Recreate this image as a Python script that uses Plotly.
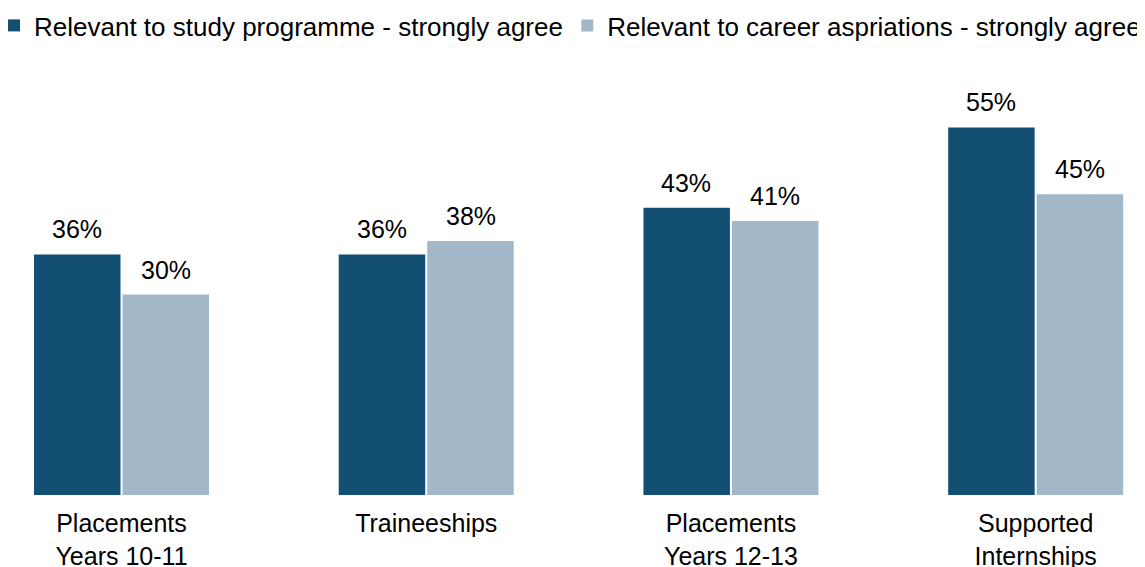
import plotly.graph_objects as go

categories = ["Placements<br>Years 10-11", "Traineeships", "Placements<br>Years 12-13", "Supported<br>Internships"]
study_values = [36, 36, 43, 55]
career_values = [30, 38, 41, 45]
series_names = ["Relevant to study programme - strongly agree",
                "Relevant to career aspriations - strongly agree"]
colors = ["#124F73", "#A2B8C8"]
legend_ids = ["legend", "legend2"]
label_shift = [-44.5, 44.5]

fig = go.Figure()
for name, vals, col, lg in zip(series_names, [study_values, career_values], colors, legend_ids):
    fig.add_trace(go.Bar(
        x=categories, y=vals, name=name, marker_color=col,
        marker_line_width=0, legend=lg,
        text=[f"{v}%" for v in vals], textposition="none",
        hoverinfo="x+y+name",
    ))

annotations = []
for vals, dx in zip([study_values, career_values], label_shift):
    for cat, v in zip(categories, vals):
        annotations.append(dict(
            x=cat, y=v, xref="x", yref="y", text=f"{v}%", showarrow=False,
            xshift=dx, yshift=9, yanchor="bottom", xanchor="center",
            font=dict(size=25, color="#000000"),
        ))

fig.update_layout(
    width=1145, height=567,
    margin=dict(l=0, r=0, t=52, b=80, autoexpand=False),
    paper_bgcolor="white", plot_bgcolor="white",
    barmode="group", bargap=0.419, bargroupgap=0.023,
    font=dict(family="Liberation Sans, Arial, sans-serif", color="#000000"),
    showlegend=True,
    annotations=annotations,
    legend=dict(orientation="h", xref="paper", yref="paper",
                x=-0.0122, xanchor="left", y=1.1333, yanchor="top",
                font=dict(size=26), bgcolor="rgba(0,0,0,0)"),
    legend2=dict(orientation="h", xref="paper", yref="paper",
                 x=0.4885, xanchor="left", y=1.1333, yanchor="top",
                 font=dict(size=26), bgcolor="rgba(0,0,0,0)"),
)
fig.update_xaxes(range=[-0.3725, 3.385], showline=False, ticks="", showgrid=False,
                 tickfont=dict(size=25), automargin=False, ticklabelstandoff=11)
fig.update_yaxes(range=[0, 65.1], visible=False, showgrid=False, zeroline=False,
                 automargin=False)

fig.write_html("out.html")
